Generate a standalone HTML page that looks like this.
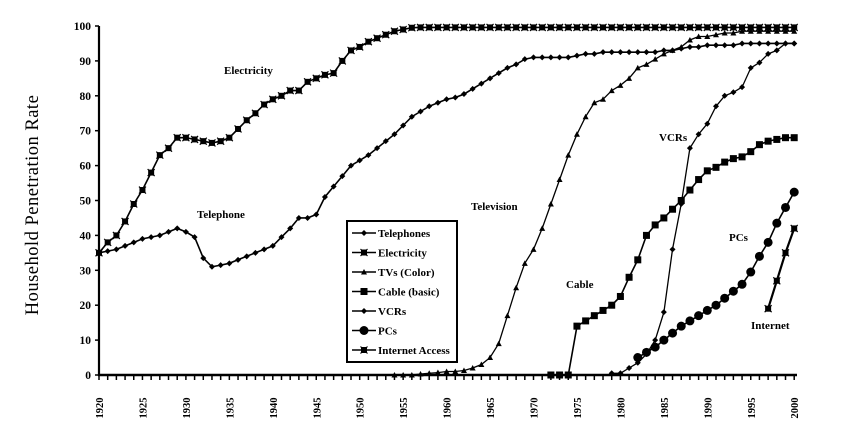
<!DOCTYPE html>
<html><head><meta charset="utf-8"><style>
body{margin:0;background:#fff;width:850px;height:426px;overflow:hidden}
svg{display:block}
text{font-family:"Liberation Serif",serif;font-weight:bold;fill:#000}
</style></head><body>
<svg id="s" width="850" height="426" xmlns="http://www.w3.org/2000/svg"></svg>
<script>
const s=document.getElementById('s');
const X=y=>99+(y-1920)*8.69, Y=v=>375-3.49*v;
let h='';
h+=`<line x1="99" y1="26" x2="99" y2="376" stroke="#000" stroke-width="2.2"/>`;
h+=`<line x1="98" y1="375" x2="797" y2="375" stroke="#000" stroke-width="2.5"/>`;
for(let v=0;v<=100;v+=10){h+=`<line x1="95" y1="${Y(v)}" x2="99" y2="${Y(v)}" stroke="#000" stroke-width="1.5"/><text x="91" y="${Y(v)+4}" font-size="11.5" text-anchor="end">${v}</text>`;}
for(let y=1920;y<=2000;y++){h+=`<line x1="${X(y)}" y1="375" x2="${X(y)}" y2="380" stroke="#000" stroke-width="1.5"/>`;}
for(let y=1920;y<=2000;y+=5){h+=`<text transform="translate(${X(y)+4},${408}) rotate(-90)" font-size="10.5" text-anchor="middle">${y}</text>`;}
h+=`<text transform="translate(38,205) rotate(-90)" font-size="18.5" text-anchor="middle" style="font-weight:normal;letter-spacing:0.5px">Household Penetration Rate</text>`;
function ser(start,arr,mk,sw){let p=arr.map((v,i)=>`${X(start+i).toFixed(1)},${Y(v).toFixed(1)}`).join(' ');
 h+=`<polyline points="${p}" fill="none" stroke="#000" stroke-width="${sw||1.6}"/>`;
 arr.forEach((v,i)=>{h+=mark(X(start+i),Y(v),mk);});}
function mark(x,y,m){
 if(m=='d')return `<path d="M${x-3},${y}L${x},${y-3}L${x+3},${y}L${x},${y+3}Z"/>`;
 if(m=='t')return `<path d="M${x-3},${y+2.5}L${x},${y-3}L${x+3},${y+2.5}Z"/>`;
 if(m=='s')return `<rect x="${x-3.5}" y="${y-3.5}" width="7" height="7"/>`;
 if(m=='c')return `<circle cx="${x}" cy="${y}" r="4.5"/>`;
 if(m=='x')return `<rect x="${x-3}" y="${y-3}" width="6" height="6"/><path d="M${x-3.5},${y-3.5}L${x+3.5},${y+3.5}M${x+3.5},${y-3.5}L${x-3.5},${y+3.5}" stroke="#000" stroke-width="1.2"/>`;
 return '';}
const elec=[35,38,40,44,49,53,58,63,65,68,68,67.5,67,66.5,67,68,70.5,73,75,77.5,79,80,81.5,81.5,84,85,86,86.5,90,93,94,95.5,96.5,97.5,98.5,99,99.5];
for(let i=1957;i<=2000;i++)elec.push(99.6);
ser(1920,elec,'x');
const tel=[35,35.5,36,37,38,39,39.5,40,41,42,41,39.5,33.5,31,31.5,32,33,34,35,36,37,39.5,42,45,45,46,51,54,57,60,61.5,63,65,67,69,71.5,74,75.5,77,78,79,79.5,80.5,82,83.5,85,86.5,88,89,90.5,91,91,91,91,91,91.5,92,92,92.5,92.5,92.5,92.5,92.5,92.5,92.5,93,93,93.5,94,94,94.5,94.5,94.5,94.5,95,95,95,95,95,95,95];
ser(1920,tel,'d');
const tv=[0,0,0,0.3,0.5,0.7,1,1,1.3,2,3,5,9,17,25,32,36,42,49,56,63,69,74,78,79,81.5,83,85,88,89,90.5,92,93,94,96,97,97,97.5,98,98,98.5,98.5,98.5,98.5,98.5,98.5,98.5];
ser(1954,tv,'t',1.3);
const cab=[0,0,0,14,15.5,17,18.5,20,22.5,28,33,40,43,45,47.5,50,53,56,58.5,59.5,61,62,62.5,64,66,67,67.5,68,68];
ser(1972,cab,'s');
const vcr=[0.5,0.5,2,3.5,6,10,18,36,49,65,69,72,77,80,81,82.5,88,89.5,92,93,95,95];
ser(1979,vcr,'d',1.3);
const pc=[5,6.5,8,10,12,14,15.5,17,18.5,20,22,24,26,29.5,34,38,43.5,48,52.4];
ser(1982,pc,'c');
ser(1997,[19,27,35,42],'x',2.2);
const L=(x,y,t)=>h+=`<text x="${x}" y="${y}" font-size="11">${t}</text>`;
L(224,74,'Electricity');L(197,218,'Telephone');L(471,210,'Television');L(566,288,'Cable');L(659,141,'VCRs');L(729,241,'PCs');L(751,329,'Internet');
h+=`<rect x="347" y="221" width="110" height="141" fill="#fff" stroke="#000" stroke-width="2"/>`;
const lg=[['Telephones','d'],['Electricity','x'],['TVs (Color)','t'],['Cable (basic)','s'],['VCRs','d'],['PCs','c'],['Internet Access','x']];
lg.forEach((e,i)=>{const y=233+i*19.5;h+=`<line x1="352" y1="${y}" x2="376" y2="${y}" stroke="#000" stroke-width="1.6"/>`+mark(364,y,e[1])+`<text x="378" y="${y+4}" font-size="11">${e[0]}</text>`;});
s.innerHTML=h;
</script>
</body></html>
